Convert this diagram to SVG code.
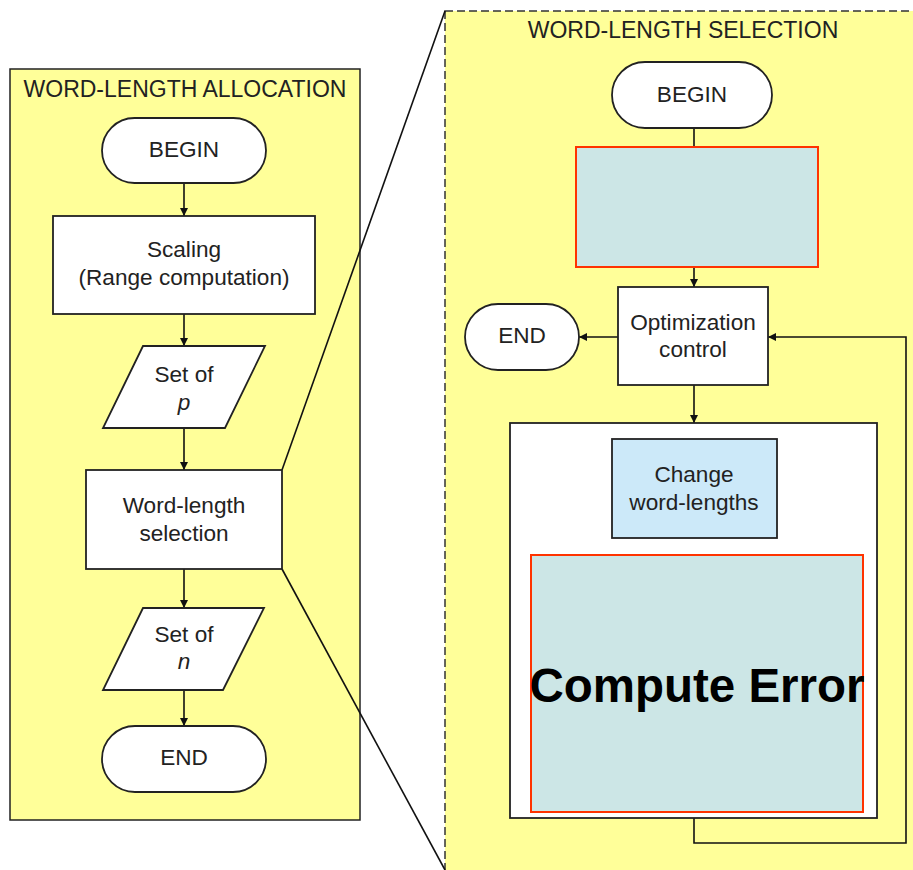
<svg xmlns="http://www.w3.org/2000/svg" width="913" height="870" viewBox="0 0 913 870">
<defs>
<marker id="ah" viewBox="0 0 10 10" refX="10" refY="5" markerWidth="8" markerHeight="8" markerUnits="userSpaceOnUse" orient="auto">
<path d="M0,0 L10,5 L0,10 z" fill="#111"/>
</marker>
<style>
text{font-family:"Liberation Sans",Arial,sans-serif;font-size:22.6px;fill:#222;text-anchor:middle}
.title{font-size:23px}
.panel{fill:#ffff99;stroke:#222;stroke-width:1.5}
.dash{fill:#ffff99;stroke:#333;stroke-width:1.5;stroke-dasharray:8 4}
.node{fill:#fff;stroke:#222;stroke-width:1.8}
.cyan{fill:#cce6e6;stroke:#ff3300;stroke-width:2}
.blue{fill:#cce9f9;stroke:#222;stroke-width:1.8}
.wire{fill:none;stroke:#111;stroke-width:1.6}
.arr{fill:none;stroke:#111;stroke-width:1.6;marker-end:url(#ah)}
</style>
</defs>
<rect width="913" height="870" fill="#fff"/>
<g id="panel-allocation">
<rect class="panel" x="10" y="69" width="350" height="751"/>
<text class="title" x="185" y="97">WORD-LENGTH ALLOCATION</text>
</g>
<g id="panel-selection">
<rect class="dash" x="445" y="11" width="480" height="880"/>
<text class="title" x="683" y="38">WORD-LENGTH SELECTION</text>
</g>
<g id="connectors">
<line class="arr" x1="184" y1="183" x2="184" y2="216"/>
<line class="arr" x1="184" y1="314" x2="184" y2="346"/>
<line class="arr" x1="184" y1="428" x2="184" y2="470"/>
<line class="arr" x1="184" y1="569" x2="184" y2="608"/>
<line class="arr" x1="184" y1="690" x2="184" y2="726"/>
<line class="wire" x1="282" y1="470" x2="445" y2="11"/>
<line class="wire" x1="282" y1="569" x2="445" y2="870"/>
<line class="wire" x1="694" y1="128" x2="694" y2="147"/>
<line class="arr" x1="694" y1="267" x2="694" y2="287"/>
<line class="arr" x1="618" y1="337" x2="579" y2="337"/>
<line class="arr" x1="694" y1="385" x2="694" y2="423"/>
<line class="wire" x1="694" y1="538" x2="694" y2="555"/>
<polyline class="arr" points="694,818 694,843 906,843 906,337 768,337"/>
</g>
<g id="begin-1">
<rect class="node" x="102" y="118" width="164" height="65" rx="32.5"/>
<text x="184" y="157">BEGIN</text>
</g>
<g id="scaling">
<rect class="node" x="53" y="216" width="262" height="98"/>
<text x="184" y="257">Scaling</text>
<text x="184" y="285">(Range computation)</text>
</g>
<g id="set-p">
<polygon class="node" points="143,346 265,346 225,428 103,428"/>
<text x="184" y="382">Set of</text>
<text x="184" y="410" font-style="italic">p</text>
</g>
<g id="wl-selection">
<rect class="node" x="86" y="470" width="196" height="99"/>
<text x="184" y="513">Word-length</text>
<text x="184" y="541">selection</text>
</g>
<g id="set-n">
<polygon class="node" points="143,608 264,608 223,690 103,690"/>
<text x="184" y="642">Set of</text>
<text x="184" y="669" font-style="italic">n</text>
</g>
<g id="end-1">
<rect class="node" x="102" y="726" width="164" height="66" rx="33"/>
<text x="184" y="765">END</text>
</g>
<g id="begin-2">
<rect class="node" x="612" y="62" width="160" height="66" rx="33"/>
<text x="692" y="102">BEGIN</text>
</g>
<g id="cyan-block">
<rect class="cyan" x="576" y="147" width="242" height="120"/>
</g>
<g id="opt-control">
<rect class="node" x="618" y="287" width="150" height="98"/>
<text x="693" y="330">Optimization</text>
<text x="693" y="357">control</text>
</g>
<g id="end-2">
<rect class="node" x="465" y="304" width="114" height="66" rx="33"/>
<text x="522" y="343">END</text>
</g>
<g id="loop-box">
<rect class="node" x="510" y="423" width="367" height="395"/>
</g>
<g id="change-wl">
<rect class="blue" x="612" y="439" width="165" height="99"/>
<text x="694" y="482">Change</text>
<text x="694" y="510">word-lengths</text>
</g>
<g id="compute-error">
<rect class="cyan" x="531" y="555" width="332" height="257"/>
<text x="697" y="702" style="font-size:47.5px;font-weight:bold;fill:#000">Compute Error</text>
</g>
</svg>
